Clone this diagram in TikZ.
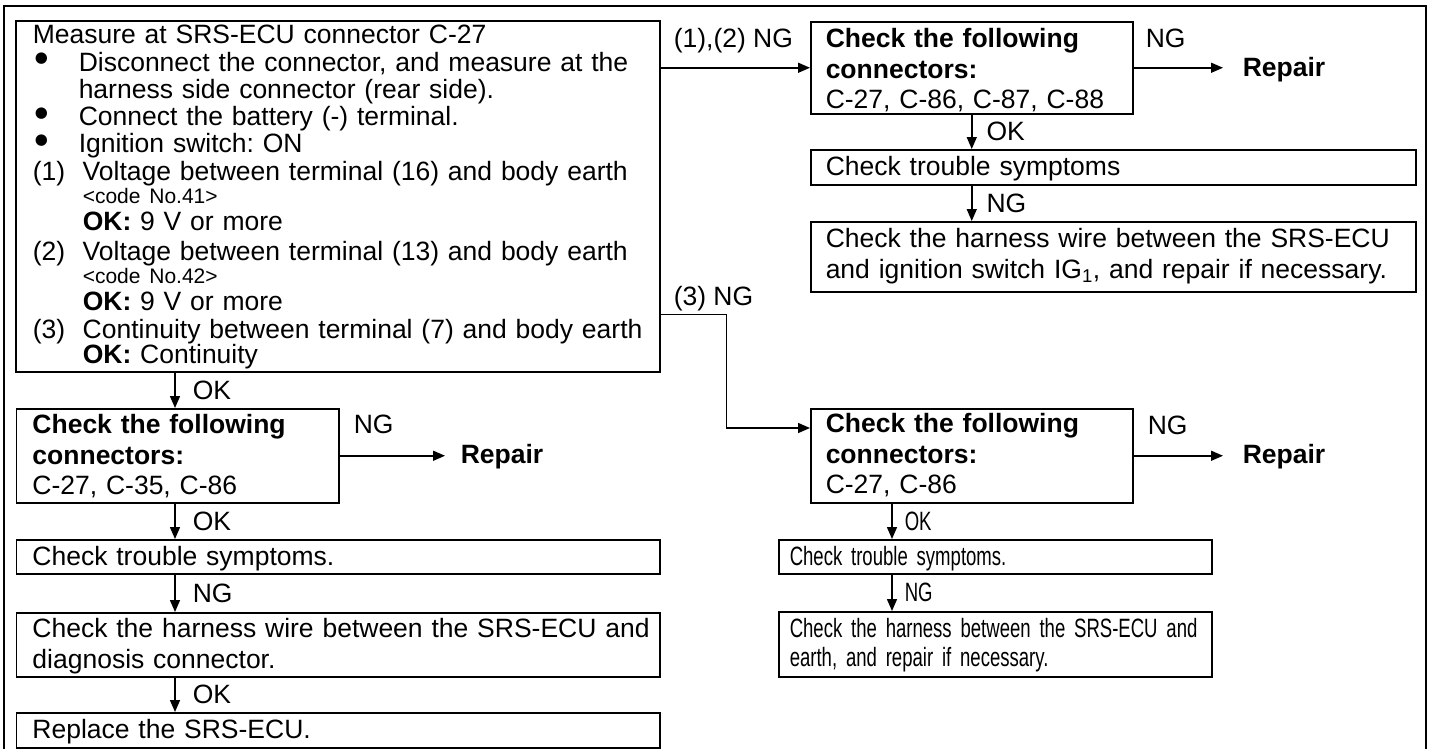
\documentclass[tikz,border=0pt]{standalone}
\usepackage{fontspec}
\setmainfont{Liberation Sans}
\newfontfamily\narrowfont{Liberation Sans}[FakeStretch=0.70]
\newfontfamily\symfont{DejaVu Sans}
\usetikzlibrary{arrows.meta}
\frenchspacing

\newcommand\bigfnt{\fontsize{26.5}{30.5}\selectfont}
\newcommand\codefnt{\fontsize{21}{27.3}\selectfont}
\newcommand\itembul{\makebox[46pt][l]{\hspace{2pt}\raisebox{8.5pt}{\fontsize{15}{15}\symfont ●}}}
\newcommand\numitem[1]{\makebox[50pt][l]{(#1)}}

\begin{document}
\begin{tikzpicture}[x=1pt,y=-1pt,->,>={Triangle[length=12pt,width=10pt]},line width=1.5pt,
    box/.style={draw,anchor=north west,align=left,inner xsep=15pt,inner ysep=0pt,font=\bigfnt},
    lab/.style={anchor=base west,inner sep=0pt,font=\bigfnt},
    rep/.style={anchor=base west,inner sep=0pt,font=\bigfnt\bfseries},
    vlab/.style={anchor=west,inner xsep=14pt,inner ysep=0pt,font=\bigfnt},
    nlab/.style={anchor=west,inner xsep=12pt,inner ysep=0pt,font=\bigfnt\narrowfont}]

  \fill[white,-] (0,0) rectangle (1432,748);
  \useasboundingbox (0,0) rectangle (1432,748);
  % outer frame, open at the bottom
  \draw[-,line width=1.8pt] (4,760) -- (4,5.7) -- (1425.7,5.7) -- (1425.7,760);

  \node[box,inner xsep=17pt,text width=610pt,text height=23pt,text depth=328pt,
        font=\fontsize{26.5}{27.3}\selectfont] (main) at (15,20) {%
    Measure at SRS-ECU connector C-27\\
    \itembul Disconnect the connector, and measure at the\\
    \hspace*{46pt}harness side connector (rear side).\\
    \itembul Connect the battery (-) terminal.\\
    \itembul Ignition switch: ON\\
    \numitem{1}Voltage between terminal (16) and body earth\\[-4pt]
    \hspace*{50pt}{\codefnt <code No.41>}\\
    \hspace*{50pt}\textbf{OK:} 9 V or more\\[2pt]
    \numitem{2}Voltage between terminal (13) and body earth\\[-4pt]
    \hspace*{50pt}{\codefnt <code No.42>}\\
    \hspace*{50pt}\textbf{OK:} 9 V or more\\
    \numitem{3}Continuity between terminal (7) and body earth\\[-2pt]
    \hspace*{50pt}\textbf{OK:} Continuity};

  % (1),(2) NG branch
  \node[box,text width=292pt,text height=26pt,text depth=66pt] (a1) at (810,21)
    {\textbf{Check the following}\\\textbf{connectors:}\\C-27, C-86, C-87, C-88};
  \node[box,text width=575pt,text height=26pt,text depth=9pt] (a2) at (810,149)
    {Check trouble symptoms};
  \node[box,text width=575pt,text height=26pt,text depth=44pt] (a3) at (810,221)
    {\mbox{Check the harness wire between the SRS-ECU}\\and ignition switch IG\textsubscript{1}, and repair if necessary.};

  % OK branch
  \node[box,inner xsep=16pt,text width=290.3pt,text height=25pt,text depth=69pt] (c1) at (15.7,408)
    {\textbf{Check the following}\\\textbf{connectors:}\\C-27, C-35, C-86};
  \node[box,inner xsep=16pt,text width=611.3pt,text height=26pt,text depth=8pt] (c2) at (15.7,539)
    {Check trouble symptoms.};
  \node[box,inner xsep=16pt,text width=611.3pt,text height=25pt,text depth=39pt] (c3) at (15.7,612)
    {\mbox{Check the harness wire between the SRS-ECU and}\\diagnosis connector.};
  \node[box,inner xsep=16pt,text width=611.3pt,text height=26pt,text depth=9pt] (c4) at (15.7,712)
    {Replace the SRS-ECU.};

  % (3) NG branch
  \node[box,text width=292pt,text height=24pt,text depth=70pt] (b1) at (810,408)
    {\textbf{Check the following}\\\textbf{connectors:}\\C-27, C-86};
  \node[box,inner xsep=11pt,text width=411pt,text height=26pt,text depth=8pt,
        font=\bigfnt\narrowfont] (b2) at (778,539)
    {Check trouble symptoms.};
  \node[box,inner xsep=11pt,text width=411pt,text height=26pt,text depth=39pt,
        font=\fontsize{26.5}{29}\selectfont\narrowfont] (b3) at (778,611)
    {\mbox{Check the harness between the SRS-ECU and}\\earth, and repair if necessary.};

  \node[lab] (ng12) at (673,47) {(1),(2) NG};
  \node[lab] (ng3) at (673,305) {(3) NG};
  \node[lab] (nga) at (1145,47) {NG};
  \node[lab] (ngb) at (1147,434) {NG};
  \node[lab] (ngc) at (353,433) {NG};
  \node[rep] (repa) at (1242,76) {Repair};
  \node[rep] (repb) at (1242,463) {Repair};
  \node[rep] (repc) at (460,463) {Repair};

  \coordinate (ldown) at ([xshift=160pt]main.south west);
  \coordinate (rdown) at ([xshift=82pt]b1.south west);

  \draw (a1.west -| main.east) -- (a1.west);
  \draw ([yshift=58pt]main.south east) -- ++(66,0) |- ([yshift=-20pt]b1.north west);

  \draw[shorten >=19pt] (a1.east) -- (a1.east -| repa.west);
  \draw[shorten >=19pt] (b1.east) -- (b1.east -| repb.west);
  \draw[shorten >=15pt] (c1.east) -- (c1.east -| repc.west);

  \draw (a1.south) -- node[vlab] {OK} (a1.south |- a2.north);
  \draw (a1.south |- a2.south) -- node[vlab] {NG} (a1.south |- a3.north);

  \draw (ldown) -- node[vlab,inner xsep=17pt] {OK} (ldown |- c1.north);
  \draw (ldown |- c1.south) -- node[vlab,inner xsep=17pt] {OK} (ldown |- c2.north);
  \draw (ldown |- c2.south) -- node[vlab,inner xsep=17pt] {NG} (ldown |- c3.north);
  \draw (ldown |- c3.south) -- node[vlab,inner xsep=17pt] {OK} (ldown |- c4.north);

  \draw (rdown) -- node[nlab] {OK} (rdown |- b2.north);
  \draw (rdown |- b2.south) -- node[nlab] {NG} (rdown |- b3.north);
\end{tikzpicture}
\end{document}
